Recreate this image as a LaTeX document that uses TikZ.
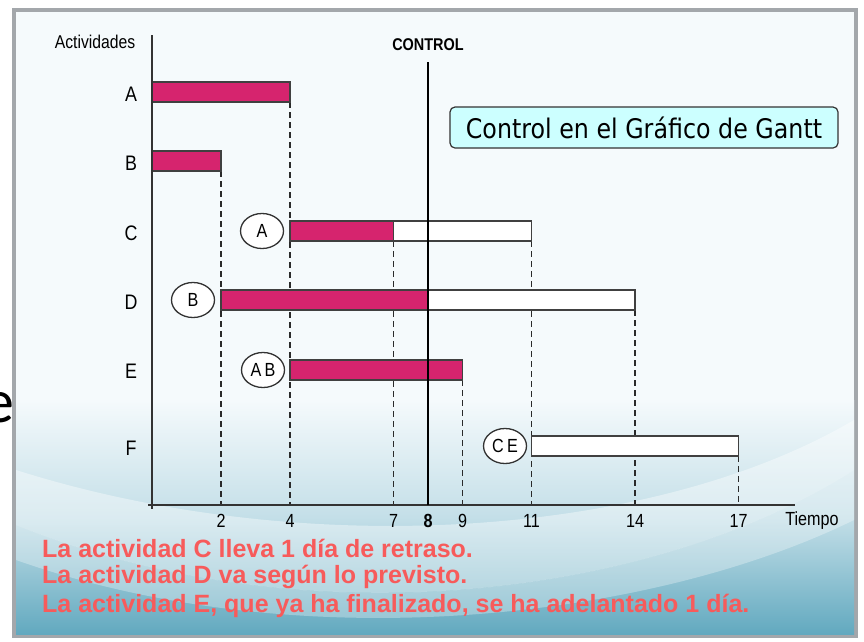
\documentclass[tikz,border=0pt]{standalone}
\usepackage{fontspec}
\setmainfont{Liberation Sans}
\newfontfamily\titlefont[FakeStretch=0.88]{DejaVu Sans}
\newfontfamily\narrowfont[FakeStretch=0.85]{Liberation Sans}
\newfontfamily\slidefont{Carlito}
\usetikzlibrary{shapes.geometric}
\definecolor{barpink}{HTML}{D6246E}
\definecolor{txtred}{HTML}{F75B5B}
\definecolor{boxfill}{HTML}{CCFFFF}
\definecolor{framegray}{HTML}{A3A7AB}
\definecolor{bgtop}{HTML}{F5FAFC}
\definecolor{bgmid}{HTML}{C4DFE8}
\definecolor{bgbot}{HTML}{62A9BF}
\definecolor{dashgray}{HTML}{2A2A2A}
\begin{document}
\begin{tikzpicture}[x=1pt,y=-1pt,
  axisline/.style={line width=1.7pt,black!80},
  guide/.style={dash pattern=on 6pt off 4pt,line width=1.9pt,dashgray},
  donebar/.style={fill=barpink,draw=black!75,line width=1.5pt},
  todobar/.style={fill=white,draw=black!75,line width=1.5pt},
  actlabel/.style={font=\narrowfont\fontsize{21}{24}\selectfont,anchor=center},
  ticklabel/.style={font=\narrowfont\fontsize{19}{22}\selectfont,anchor=center},
  prec/.style={ellipse,draw=black!80,line width=1.3pt,fill=white,minimum width=43pt,minimum height=35pt,inner sep=0pt,font=\narrowfont\fontsize{19}{22}\selectfont},
  note/.style={font=\bfseries\fontsize{25}{28}\selectfont,text=txtred,anchor=west,inner sep=0pt}]
\useasboundingbox (0,0) rectangle (864,641);
% slide frame and background
\fill[white] (0,0) rectangle (864,641);
\node[font=\slidefont\fontsize{62}{70}\selectfont,anchor=east,inner sep=0pt] (ee) at (15,408) {e};
\fill[framegray] (12,8) rectangle (858,638);
\fill[bgtop] (16,12) rectangle (854,400);
\shade[top color=bgtop,bottom color=bgbot,middle color=bgmid] (16,400) rectangle (854,634);
\fill[white,opacity=0.4] (16,525) .. controls (300,640) and (650,600) .. (854,470) -- (854,420) .. controls (650,540) and (300,560) .. (16,470) -- cycle;
\fill[white,opacity=0.3] (16,560) .. controls (300,660) and (650,620) .. (854,520) -- (854,470) .. controls (650,600) and (300,640) .. (16,525) -- cycle;
% dashed guides
\def\X#1{152+34.5*#1}
\draw[guide] ({\X{2}},171) -- ({\X{2}},505);
\draw[guide] ({\X{4}},102) -- ({\X{4}},505);
\draw[guide] ({\X{7}},241) -- ({\X{7}},505);
\draw[guide] ({\X{11}},241) -- ({\X{11}},505);
\draw[guide] ({\X{14}},310) -- ({\X{14}},505);
\draw[guide] ({\X{9}},380) -- ({\X{9}},505);
\draw[guide] ({\X{17}},456) -- ({\X{17}},505);
% bars
\draw[donebar] ({\X{0}},82) rectangle ({\X{4}},102);
\draw[donebar] ({\X{0}},151) rectangle ({\X{2}},171);
\draw[donebar] ({\X{4}},221) rectangle ({\X{7}},241);
\draw[todobar] ({\X{7}},221) rectangle ({\X{11}},241);
\draw[donebar] ({\X{2}},290) rectangle ({\X{8}},310);
\draw[todobar] ({\X{8}},290) rectangle ({\X{14}},310);
\draw[donebar] ({\X{4}},360) rectangle ({\X{9}},380);
\draw[todobar] ({\X{11}},436) rectangle ({\X{17}},456);
% axes
\coordinate (ytop) at (152,35);
\coordinate (ybot) at (152,509);
\coordinate (xl) at (148,505);
\coordinate (xr) at (795,505);
\draw[axisline] (ytop) -- (ybot);
\draw[axisline] (xl) -- (xr);
% control line
\node[font=\narrowfont\bfseries\fontsize{17}{19}\selectfont] (ctl) at (428,45) {CONTROL};
\coordinate (ctop) at (428,62);
\coordinate (cbot) at (428,505);
\draw[line width=2.8pt,black] (ctop) -- (cbot);
% labels
\node[font=\narrowfont\fontsize{18.5}{21}\selectfont] (act) at (95,42) {Actividades};
\node[actlabel] (la) at (131,94) {A};
\node[actlabel] (lb) at (131,163) {B};
\node[actlabel] (lc) at (131,233) {C};
\node[actlabel] (ld) at (131,302) {D};
\node[actlabel] (le) at (131,371) {E};
\node[actlabel] (lf) at (131,448) {F};
\foreach \t/\n in {2/t2,4/t4,7/t7,9/t9,11/t11,14/t14,17/t17}
  \node[ticklabel] (\n) at ({\X{\t}},521) {\t};
\node[ticklabel,font=\narrowfont\bfseries\fontsize{19}{22}\selectfont] (t8) at ({\X{8}},521) {8};
\node[ticklabel] (tt) at (812,521) {Tiempo};
% precedence ellipses
\node[prec] (pa) at (262,231) {A};
\node[prec] (pb) at (193,300) {B};
\node[prec] (pab) at (263,370) {A\,B};
\node[prec] (pce) at (505,446) {C\,E};
% title box
\node[draw=black!80,line width=1.2pt,fill=boxfill,rounded corners=5pt,minimum width=388pt,minimum height=41pt,inner sep=0pt,font=\titlefont\fontsize{27}{30}\selectfont] (title) at (644,127.5) {Control en el Gráfico de Gantt};
% notes
\node[note] (n1) at (42,548) {La actividad C lleva 1 día de retraso.};
\node[note] (n2) at (42,577) {La actividad D va según lo previsto.};
\node[note] (n3) at (42,606) {La actividad E, que ya ha finalizado, se ha adelantado 1 día.};
\end{tikzpicture}
\end{document}
